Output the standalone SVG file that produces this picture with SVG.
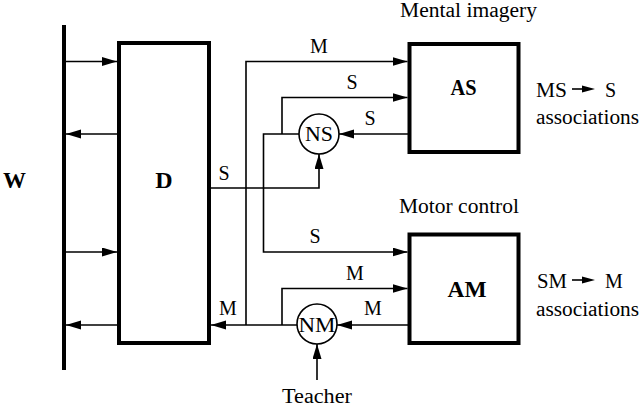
<svg xmlns="http://www.w3.org/2000/svg" width="640" height="406" viewBox="0 0 640 406">
<style>
  .box { fill: #fff; stroke: #000; stroke-width: 4; }
  .bar { stroke: #000; stroke-width: 4; fill: none; }
  .conn { stroke: #000; stroke-width: 1.6; fill: none; }
  .node { fill: #fff; stroke: #000; stroke-width: 1.6; }
  .t { font-size: 20px; fill: #000; }
  .b { font-size: 24px; font-weight: bold; fill: #000; }
  .m { text-anchor: middle; }
</style>
<defs>
  <marker id="ah" markerUnits="userSpaceOnUse" markerWidth="15" markerHeight="10" refX="15" refY="4.5" orient="auto">
    <path d="M0,0 L15,4.5 L0,9 z" fill="#000"/>
  </marker>
</defs>
<rect width="640" height="406" fill="#fff"/>
<g font-family="'Liberation Serif', 'Times New Roman', 'DejaVu Serif', serif">

<g id="W">
  <line class="bar" x1="64" y1="25" x2="64" y2="370"/>
  <text class="b" x="3" y="188" textLength="23" lengthAdjust="spacingAndGlyphs">W</text>
</g>

<g id="D">
  <rect class="box" x="119" y="43" width="90" height="300"/>
  <text class="b m" x="164" y="188">D</text>
</g>

<g id="AS">
  <rect class="box" x="409.5" y="44" width="109" height="108"/>
  <text class="b m" x="463.5" y="95" textLength="26" lengthAdjust="spacingAndGlyphs">AS</text>
</g>

<g id="AM">
  <rect class="box" x="409.5" y="234.5" width="109" height="108.5"/>
  <text class="b m" x="467" y="297" textLength="39" lengthAdjust="spacingAndGlyphs">AM</text>
</g>

<g id="NS">
  <circle class="node" cx="319" cy="134" r="20"/>
  <text class="t m" x="319" y="141" textLength="28" lengthAdjust="spacingAndGlyphs">NS</text>
</g>

<g id="NM">
  <circle class="node" cx="317" cy="324" r="20"/>
  <text class="t m" x="317" y="332" textLength="37" lengthAdjust="spacingAndGlyphs">NM</text>
</g>

<g id="connectors">
  <line class="conn" x1="66" y1="61.5" x2="117" y2="61.5" marker-end="url(#ah)"/>
  <line class="conn" x1="117" y1="134" x2="66" y2="134" marker-end="url(#ah)"/>
  <line class="conn" x1="66" y1="252" x2="117" y2="252" marker-end="url(#ah)"/>
  <line class="conn" x1="117" y1="325" x2="66" y2="325" marker-end="url(#ah)"/>
  <path class="conn" d="M246,325 V61.5 H407.5" marker-end="url(#ah)"/>
  <path class="conn" d="M282,134 V97.5 H407.5" marker-end="url(#ah)"/>
  <path class="conn" d="M299,134 H263.5 V252 H407.5" marker-end="url(#ah)"/>
  <line class="conn" x1="409" y1="134" x2="339" y2="134" marker-end="url(#ah)"/>
  <path class="conn" d="M211,188 H319 V154" marker-end="url(#ah)"/>
  <path class="conn" d="M282,325 V288.5 H407.5" marker-end="url(#ah)"/>
  <line class="conn" x1="297" y1="325" x2="211" y2="325" marker-end="url(#ah)"/>
  <line class="conn" x1="409" y1="325" x2="337" y2="325" marker-end="url(#ah)"/>
  <line class="conn" x1="317" y1="380" x2="317" y2="344" marker-end="url(#ah)"/>
  <line class="conn" x1="572" y1="89" x2="584" y2="89"/>
  <path d="M582,85.5 L595,89 L582,92.5 z" fill="#000"/>
  <line class="conn" x1="572" y1="280" x2="584" y2="280"/>
  <path d="M582,276.5 L595,280 L582,283.5 z" fill="#000"/>
</g>

<g id="labels">
  <text class="t" x="400" y="17" textLength="137" lengthAdjust="spacingAndGlyphs">Mental imagery</text>
  <text class="t" x="399" y="213" textLength="120" lengthAdjust="spacingAndGlyphs">Motor control</text>
  <text class="t m" x="319" y="53">M</text>
  <text class="t m" x="352" y="89">S</text>
  <text class="t m" x="370" y="125">S</text>
  <text class="t m" x="224" y="180">S</text>
  <text class="t m" x="315" y="243">S</text>
  <text class="t m" x="355" y="280">M</text>
  <text class="t m" x="228" y="315">M</text>
  <text class="t m" x="373" y="315">M</text>
  <text class="t m" x="317" y="403" textLength="70" lengthAdjust="spacingAndGlyphs">Teacher</text>
  <text class="t" x="536" y="97" textLength="31" lengthAdjust="spacingAndGlyphs">MS</text>
  <text class="t" x="605" y="97">S</text>
  <text class="t" x="536" y="124" textLength="103" lengthAdjust="spacingAndGlyphs">associations</text>
  <text class="t" x="537" y="288" textLength="30" lengthAdjust="spacingAndGlyphs">SM</text>
  <text class="t" x="605" y="288">M</text>
  <text class="t" x="536" y="316" textLength="103" lengthAdjust="spacingAndGlyphs">associations</text>
</g>
</g>
</svg>
